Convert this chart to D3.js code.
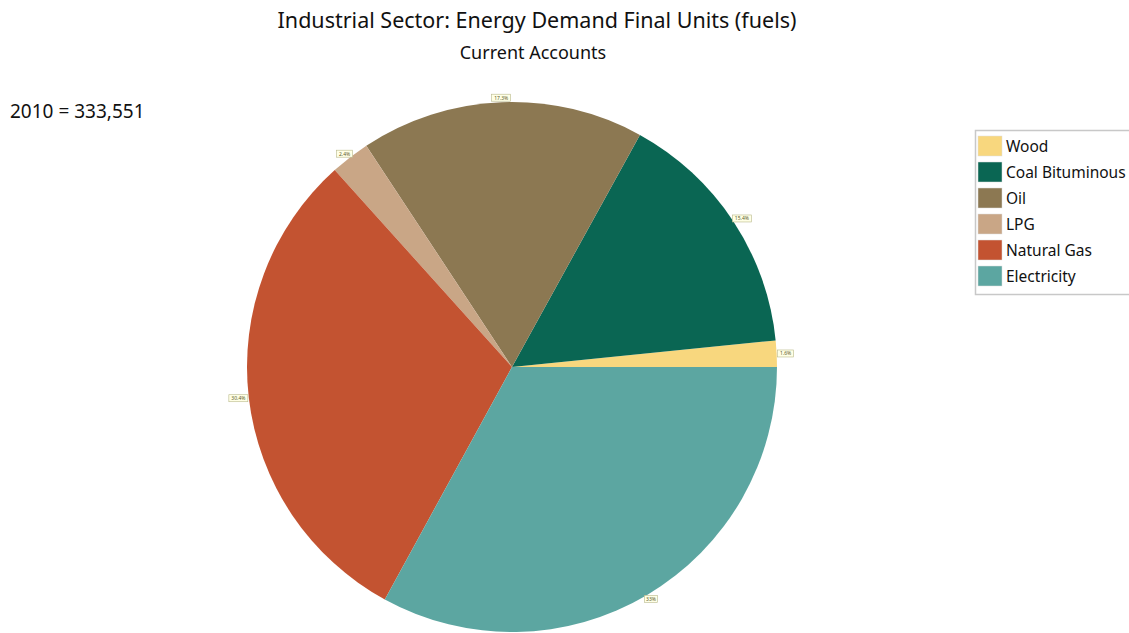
<!DOCTYPE html>
<html>
<head>
<meta charset="utf-8">
<script src="https://cdn.jsdelivr.net/npm/d3@7"></script>
<style>
  html, body { margin: 0; padding: 0; background: #fff; }
  svg { display: block; font-family: "Segoe UI", "Noto Sans", "Open Sans", sans-serif; }
</style>
</head>
<body>
<svg id="chart" width="1129" height="633"></svg>
<script>
// Industrial sector fuel shares, 2010 (percent of total)
const categories = ["Wood", "Coal Bituminous", "Oil", "LPG", "Natural Gas", "Electricity"];
const shares = [1.6, 15.4, 17.3, 2.4, 30.4, 33.0];
const shareLabels = ["1.6%", "15.4%", "17.3%", "2.4%", "30.4%", "33%"];
const colors = ["#F8D77E", "#0A6653", "#8C7852", "#C9A686", "#C35331", "#5CA6A1"];

const titleText = "Industrial Sector: Energy Demand Final Units (fuels)";
const subtitleText = "Current Accounts";
const totalText = "2010 = 333,551";

const svg = d3.select("#chart");
const cx = 512, cy = 367, radius = 265;

// Titles
svg.append("text").attr("x", 537).attr("y", 28).attr("text-anchor", "middle")
  .attr("font-size", 21.5).attr("fill", "#111").text(titleText);
svg.append("text").attr("x", 533).attr("y", 59).attr("text-anchor", "middle")
  .attr("font-size", 18).attr("fill", "#111").text(subtitleText);
svg.append("text").attr("x", 10).attr("y", 118)
  .attr("font-size", 19).attr("fill", "#111").text(totalText);

// Pie: starts at 3 o'clock and runs counter-clockwise
const color = d3.scaleOrdinal().domain(categories).range(colors);
const pie = d3.pie().sort(null).value(d => d.value)
  .startAngle(Math.PI / 2).endAngle(Math.PI / 2 - 2 * Math.PI);
const data = categories.map((c, i) => ({ name: c, value: shares[i], label: shareLabels[i] }));
const arcs = pie(data);
const arc = d3.arc().innerRadius(0).outerRadius(radius);

const g = svg.append("g").attr("transform", `translate(${cx},${cy})`);
g.selectAll("path.slice").data(arcs).join("path")
  .attr("class", "slice")
  .attr("d", arc)
  .attr("fill", d => color(d.data.name));

// Small value tags sitting just outside each slice
const tagH = 7;
const tags = g.selectAll("g.tag").data(arcs).join("g").attr("class", "tag");
tags.each(function(d) {
  const a = (d.startAngle + d.endAngle) / 2;
  const px = Math.sin(a) * radius, py = -Math.cos(a) * radius;
  const w = d.data.label.length * 3 + 4;
  const ox = Math.sin(a) * (w / 2 + 1), oy = -Math.cos(a) * (tagH / 2 + 1);
  const t = d3.select(this).attr("transform", `translate(${px + ox},${py + oy})`);
  t.append("rect").attr("x", -w / 2).attr("y", -tagH / 2).attr("width", w).attr("height", tagH)
    .attr("fill", "#FFFFE6").attr("stroke", "#B8B88A").attr("stroke-width", 0.6);
  t.append("text").attr("text-anchor", "middle").attr("y", 2)
    .attr("font-size", 5).attr("fill", "#5A5A2A").text(d.data.label);
});

// Legend
const lg = svg.append("g").attr("transform", "translate(975,130)");
lg.append("rect").attr("x", 0.5).attr("y", 0.5).attr("width", 160).attr("height", 164)
  .attr("fill", "#fff").attr("stroke", "#C8C8C8").attr("stroke-width", 1.5);
const rows = lg.selectAll("g.row").data(categories).join("g").attr("class", "row")
  .attr("transform", (d, i) => `translate(3,${6 + i * 26})`);
rows.append("rect").attr("width", 24).attr("height", 20)
  .attr("fill", d => color(d)).attr("stroke", "#ddd").attr("stroke-width", 0.5);
rows.append("text").attr("x", 28).attr("y", 16).attr("font-size", 15.5).attr("fill", "#111").text(d => d);
</script>
</body>
</html>
